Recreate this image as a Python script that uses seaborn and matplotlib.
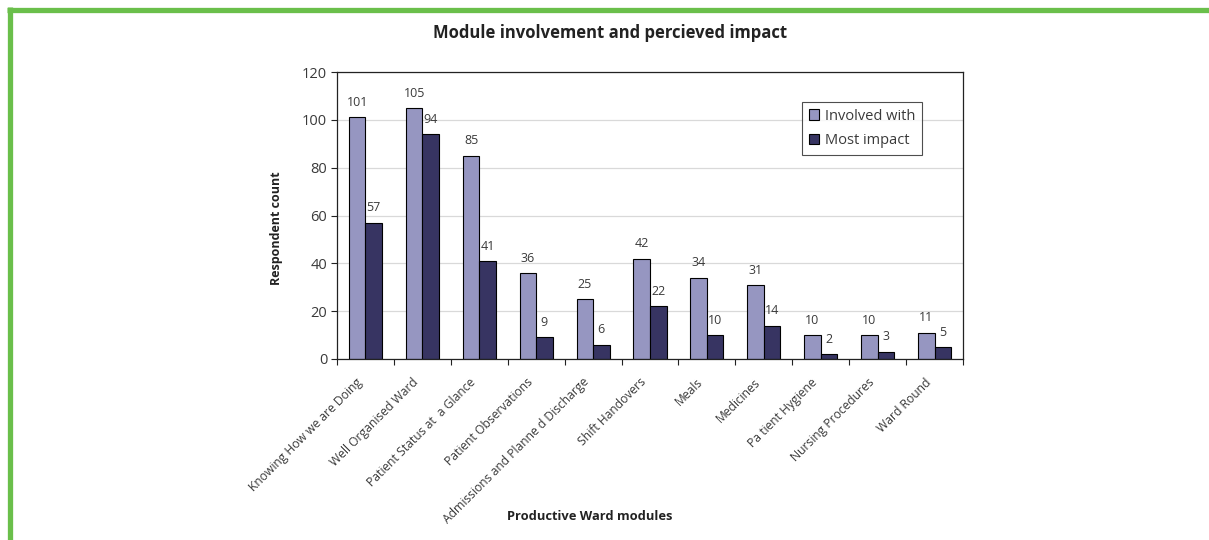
import matplotlib
matplotlib.use("Agg")
import matplotlib.pyplot as plt
import seaborn as sns
import pandas as pd
import numpy as np
from matplotlib.lines import Line2D
from matplotlib.ticker import FixedLocator

modules = ["Knowing How we are Doing", "Well Organised Ward", "Patient Status at  a Glance",
           "Patient Observations", "Admissions and Planne d Discharge", "Shift Handovers",
           "Meals", "Medicines", "Pa tient Hygiene", "Nursing Procedures", "Ward Round"]
involved = [101, 105, 85, 36, 25, 42, 34, 31, 10, 10, 11]
impact = [57, 94, 41, 9, 6, 22, 10, 14, 2, 3, 5]
series = ["Involved with", "Most impact"]
colors = ["#8f8fc8", "#302c6a"]

df = pd.DataFrame({
    "module": modules * 2,
    "count": involved + impact,
    "series": [series[0]] * len(modules) + [series[1]] * len(modules),
})

sns.set_style("white")
plt.rcParams["font.family"] = ["Open Sans", "DejaVu Sans"]

fig = plt.figure(figsize=(12.09, 5.40), dpi=100)
ax = fig.add_axes([337/1209, 1 - 359/540, (963-337)/1209, (359-72)/540])

sns.barplot(data=df, x="module", y="count", hue="series", palette=colors,
            width=0.58, edgecolor="black", linewidth=0.8, ax=ax, legend=True)

n = len(modules)
ax.set_ylim(0, 120)
ax.set_xlim(-0.5, n - 0.5)
ax.set_yticks(np.arange(0, 121, 20))
ax.yaxis.grid(True, color="#d9d9d9", linewidth=0.9)
ax.set_axisbelow(True)
for s in ax.spines.values():
    s.set_visible(True)
    s.set_color("#222222")
    s.set_linewidth(0.9)

ax.tick_params(axis="y", which="major", left=True, length=4, width=0.8, color="#222222",
               labelsize=10.5, labelcolor="#3a3a3a", pad=3)
# labels sit slightly left of each category centre, as in the reference
ax.set_xticks(np.arange(n) - 0.18, labels=modules)
ax.tick_params(axis="x", which="major", bottom=False, length=0, labelsize=8.7,
               labelcolor="#3a3a3a", pad=12)
ax.xaxis.set_minor_locator(FixedLocator(np.arange(-0.5, n, 1.0)))
ax.tick_params(axis="x", which="minor", bottom=True, length=4, width=0.8, color="#222222")
for lab in ax.get_xticklabels():
    lab.set_rotation(45)
    lab.set_ha("right")
    lab.set_rotation_mode("anchor")

for cont in ax.containers:
    for bar in cont:
        h = bar.get_height()
        ax.annotate(f"{int(h)}", (bar.get_x() + bar.get_width() / 2, h),
                    xytext=(0, 6), textcoords="offset points", ha="center", va="bottom",
                    fontsize=9, color="#3a3a3a")

ax.set_xlabel("Productive Ward modules", fontsize=9.3, fontweight="bold", color="#222222")
ax.xaxis.set_label_coords((590-337)/626, (359-510)/287)
ax.set_ylabel("Respondent count", fontsize=9, fontweight="bold", color="#222222")
ax.yaxis.set_label_coords((283-337)/626, (359-228)/287)

leg = ax.legend(loc="upper right", bbox_to_anchor=((922-337)/626, (359-102)/287),
                frameon=True, fancybox=False, edgecolor="#222222", fontsize=10.5,
                handlelength=0.7, handleheight=0.7, handletextpad=0.4,
                borderpad=0.45, labelspacing=0.65, borderaxespad=0)
leg.get_frame().set_linewidth(0.8)
for t in leg.get_texts():
    t.set_color("#3a3a3a")

fig.text(610/1209, 1 - 33/540, "Module involvement and percieved impact",
         ha="center", va="center", fontsize=12, fontweight="bold", color="#222222")

green = "#6abf4b"
fig.add_artist(Line2D([7/1209, 1], [1 - 9.5/540, 1 - 9.5/540], color=green, linewidth=3.8,
                      transform=fig.transFigure, solid_capstyle="butt"))
fig.add_artist(Line2D([9.5/1209, 9.5/1209], [1 - 7/540, 0], color=green, linewidth=3.8,
                      transform=fig.transFigure, solid_capstyle="butt"))

fig.savefig("out.png", dpi=100)
